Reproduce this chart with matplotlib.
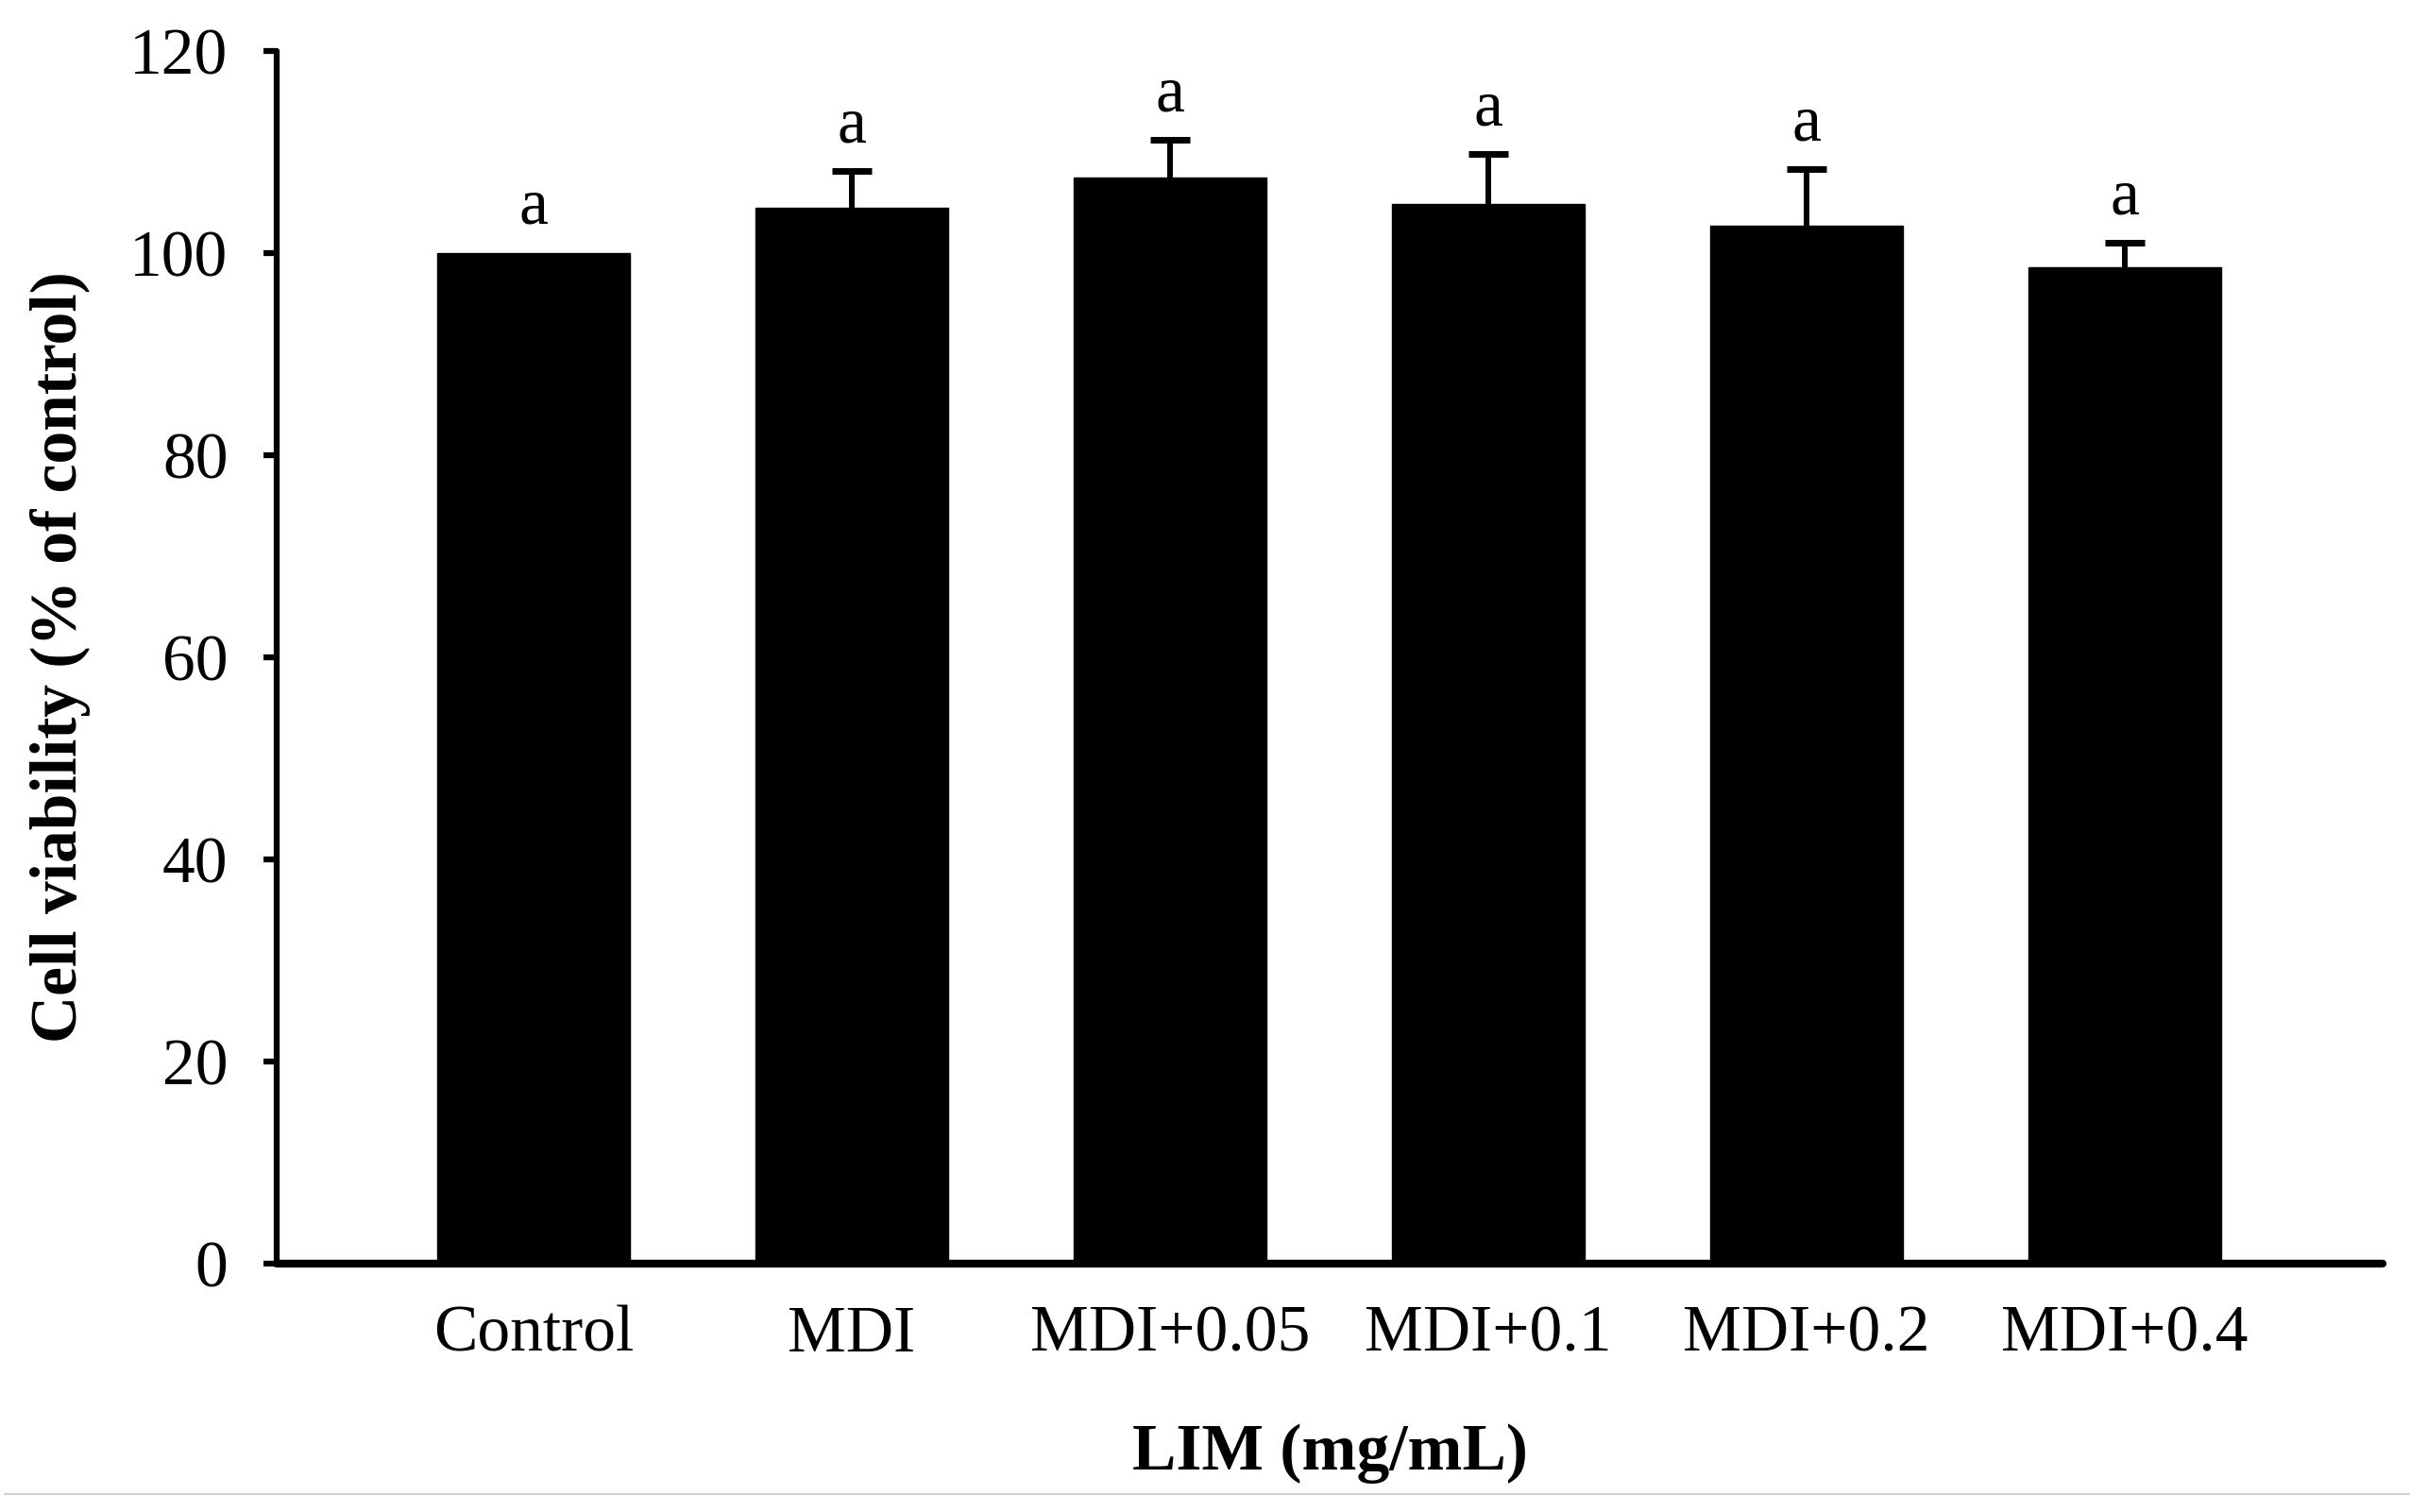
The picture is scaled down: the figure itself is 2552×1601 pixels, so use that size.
import matplotlib
matplotlib.use("Agg")
import matplotlib.pyplot as plt
from matplotlib.lines import Line2D

categories = ["Control", "MDI", "MDI+0.05", "MDI+0.1", "MDI+0.2", "MDI+0.4"]
values = [100.0, 104.5, 107.5, 104.9, 102.7, 98.6]
errors = [0.0, 3.6, 3.7, 4.9, 5.6, 2.4]
letters = ["a", "a", "a", "a", "a", "a"]
yticks = [0, 20, 40, 60, 80, 100, 120]

plt.rcParams['font.family'] = ['Liberation Serif', 'DejaVu Serif']

fig = plt.figure(figsize=(25.52, 16.01), dpi=100)
ax = fig.add_axes([0.1148, 0.1643, 0.8738, 0.802])

x = list(range(len(categories)))
ax.bar(x, values, width=0.605, color="black", edgecolor="black", zorder=2)

ex = [xi for xi, e in zip(x, errors) if e > 0]
ev = [v for v, e in zip(values, errors) if e > 0]
ee = [e for e in errors if e > 0]
ax.errorbar(ex, ev, yerr=ee, fmt="none",
            ecolor="black", elinewidth=4.3, capsize=15, capthick=5, zorder=1)

for xi, v, e, lab in zip(x, values, errors, letters):
    ax.text(xi, v + e + 2.9, lab, ha="center", va="baseline", fontsize=50)

ax.set_xlim(-0.807, 5.81)
ax.set_ylim(0, 120)
ax.set_yticks(yticks)
ax.set_yticklabels([str(t) for t in yticks], fontsize=50)
ax.set_xticks(x)
ax.set_xticklabels(categories, fontsize=50)
ax.tick_params(axis="x", length=0, pad=32)
ax.tick_params(axis="y", direction="out", length=10, width=4.5, pad=27)

for s in ["top", "right"]:
    ax.spines[s].set_visible(False)
ax.spines["left"].set_linewidth(4.5)
ax.spines["bottom"].set_linewidth(6)
ax.spines["left"].set_capstyle("round")
ax.spines["bottom"].set_capstyle("round")

ax.set_ylabel("Cell viability (% of control)", fontsize=50, fontweight="bold", labelpad=30)
ax.set_xlabel("LIM (mg/mL)", fontsize=50, fontweight="bold", labelpad=44)

fig.add_artist(Line2D([0.002, 1.0], [0.012, 0.012], color="#d0d0d0", linewidth=1.5,
                      transform=fig.transFigure))

fig.savefig("out.png", dpi=100)
